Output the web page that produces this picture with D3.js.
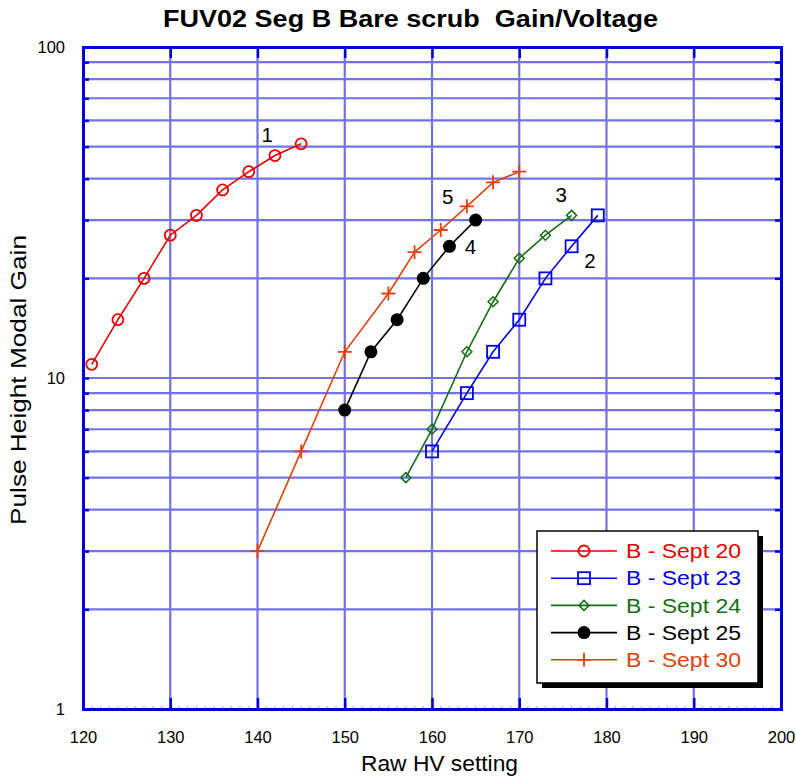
<!DOCTYPE html>
<html>
<head>
<meta charset="utf-8">
<script src="https://cdn.jsdelivr.net/npm/d3@7"></script>
<style>
  body { margin: 0; background: #fff; }
  svg text { font-family: Arial, "Liberation Sans", sans-serif; }
</style>
</head>
<body>
<div id="chart"></div>
<script>
// data
const sept20HV = [121, 124, 127, 130, 133, 136, 139, 142, 145];
const sept20Gain = [11, 15, 20, 27, 31, 37, 42, 47, 51];
const sept23HV = [160, 164, 167, 170, 173, 176, 179];
const sept23Gain = [6, 9, 12, 15, 20, 25, 31];
const sept24HV = [157, 160, 164, 167, 170, 173, 176];
const sept24Gain = [5, 7, 12, 17, 23, 27, 31];
const sept25HV = [150, 153, 156, 159, 162, 165];
const sept25Gain = [8, 12, 15, 20, 25, 30];
const sept30HV = [140, 145, 150, 155, 158, 161, 164, 167, 170];
const sept30Gain = [3, 6, 12, 18, 24, 28, 33, 39, 42];

const seriesNames = ["B - Sept 20", "B - Sept 23", "B - Sept 24", "B - Sept 25", "B - Sept 30"];
const seriesColors = ["#e60000", "#0000e6", "#146e14", "#000000", "#e0400c"];
const seriesShapes = ["circle", "square", "diamond", "dot", "plus"];
const curveLabels = ["1", "2", "3", "4", "5"];
// label anchor (HV, gain) at the text baseline
const curveLabelAt = [[141.1, 51.6], [178.1, 21.5], [174.8, 34.0], [164.4, 23.7], [161.8, 33.6]];

const xTicks = [120, 130, 140, 150, 160, 170, 180, 190, 200];
const yTicks = [1, 10, 100];

const W = 796, H = 778;
const mLeft = 83, mRight = 781, mTop = 47, mBottom = 709;

const series = [
  [sept20HV, sept20Gain], [sept23HV, sept23Gain], [sept24HV, sept24Gain],
  [sept25HV, sept25Gain], [sept30HV, sept30Gain]
].map(([hv, g], i) => ({
  name: seriesNames[i], color: seriesColors[i], shape: seriesShapes[i],
  points: hv.map((v, j) => ({ x: v, y: g[j] }))
}));

const x = d3.scaleLinear().domain([120, 200]).range([mLeft, mRight]);
const y = d3.scaleLog().domain([1, 100]).range([mBottom, mTop]);

const svg = d3.select("#chart").append("svg")
  .attr("width", W).attr("height", H);

// minor grid values 1..9 per decade
const gridY = [];
for (const dec of [1, 10]) for (let k = 2; k <= 9; k++) gridY.push(k * dec);
gridY.push(10);

const gridColor = "#7272e2", axisColor = "#0000d8";

svg.append("g").selectAll("line").data(gridY).join("line")
  .attr("x1", mLeft).attr("x2", mRight)
  .attr("y1", d => y(d)).attr("y2", d => y(d))
  .attr("stroke", gridColor).attr("stroke-width", 2.2);

svg.append("g").selectAll("line").data(xTicks.slice(1, -1)).join("line")
  .attr("x1", d => x(d)).attr("x2", d => x(d))
  .attr("y1", mTop).attr("y2", mBottom)
  .attr("stroke", gridColor).attr("stroke-width", 2.2);

// axes with inward ticks
const axisB = svg.append("g").attr("transform", `translate(0,${mBottom})`)
  .call(d3.axisBottom(x).tickValues(xTicks).tickSize(-11).tickPadding(22).tickFormat(d3.format("d")));
const axisT = svg.append("g").attr("transform", `translate(0,${mTop})`)
  .call(d3.axisTop(x).tickValues(xTicks).tickSize(-11).tickFormat(""));
const axisL = svg.append("g").attr("transform", `translate(${mLeft},0)`)
  .call(d3.axisLeft(y).tickValues(yTicks).tickSize(0).tickPadding(18).tickFormat(d3.format("d")));
const axisL2 = svg.append("g").attr("transform", `translate(${mLeft},0)`)
  .call(d3.axisLeft(y).tickValues(gridY).tickSize(-6).tickFormat(""));
const axisR = svg.append("g").attr("transform", `translate(${mRight},0)`)
  .call(d3.axisRight(y).tickValues(gridY.concat([100])).tickSize(-6).tickFormat(""));

for (const a of [axisB, axisT, axisL, axisL2, axisR]) {
  a.select(".domain").attr("stroke", axisColor).attr("stroke-width", 3);
  a.selectAll(".tick line").attr("stroke", axisColor).attr("stroke-width", 2.5);
  a.selectAll(".tick text").attr("fill", "#000").attr("font-size", 16.5)
    .attr("font-family", "Arial, 'Liberation Sans', sans-serif");
}
axisB.selectAll(".tick text").attr("dy", "0.71em");

// faint minor ticks along the bottom
svg.append("g").selectAll("line").data(d3.range(120, 201)).join("line")
  .attr("x1", d => x(d)).attr("x2", d => x(d))
  .attr("y1", mBottom).attr("y2", mBottom - 3)
  .attr("stroke", axisColor).attr("stroke-width", 1).attr("opacity", 0.4);

// titles (the original font is a bit wider than Arial, so stretch to the measured widths)
svg.append("text").attr("x", 410.5).attr("y", 27).attr("text-anchor", "middle")
  .attr("font-size", 23.5).attr("font-weight", "bold")
  .attr("style", "white-space:pre")
  .attr("textLength", 495).attr("lengthAdjust", "spacingAndGlyphs")
  .text("FUV02 Seg B Bare scrub  Gain/Voltage");
svg.append("text").attr("x", 439.5).attr("y", 771).attr("text-anchor", "middle")
  .attr("font-size", 22)
  .attr("textLength", 157).attr("lengthAdjust", "spacingAndGlyphs")
  .text("Raw HV setting");
svg.append("text").attr("transform", "translate(26,380) rotate(-90)")
  .attr("text-anchor", "middle").attr("font-size", 22)
  .attr("textLength", 290).attr("lengthAdjust", "spacingAndGlyphs")
  .text("Pulse Height Modal Gain");

const line = d3.line().x(d => x(d.x)).y(d => y(d.y));

function drawMarker(g, shape, color) {
  if (shape === "circle") {
    g.append("circle").attr("r", 5.5).attr("fill", "none").attr("stroke", color).attr("stroke-width", 1.8);
  } else if (shape === "square") {
    g.append("rect").attr("x", -6).attr("y", -6).attr("width", 12).attr("height", 12)
      .attr("fill", "none").attr("stroke", color).attr("stroke-width", 1.8);
  } else if (shape === "diamond") {
    g.append("path").attr("d", "M0,-5L5,0L0,5L-5,0Z")
      .attr("fill", "none").attr("stroke", color).attr("stroke-width", 1.5);
  } else if (shape === "dot") {
    g.append("circle").attr("r", 6.5).attr("fill", color);
  } else {
    g.append("path").attr("d", "M-7,0H7M0,-7V7")
      .attr("stroke", color).attr("stroke-width", 1.8);
  }
}

for (const s of series) {
  const g = svg.append("g");
  g.append("path").datum(s.points).attr("d", line)
    .attr("fill", "none").attr("stroke", s.color).attr("stroke-width", 1.6);
  g.selectAll("g").data(s.points).join("g")
    .attr("transform", d => `translate(${x(d.x)},${y(d.y)})`)
    .each(function () { drawMarker(d3.select(this), s.shape, s.color); });
}

svg.append("g").selectAll("text").data(curveLabels).join("text")
  .attr("x", (d, i) => x(curveLabelAt[i][0])).attr("y", (d, i) => y(curveLabelAt[i][1]))
  .attr("text-anchor", "middle").attr("font-size", 20.5).text(d => d);

// legend
const lg = svg.append("g").attr("transform", "translate(537,531)");
lg.append("rect").attr("x", 5).attr("y", 5).attr("width", 221).attr("height", 152).attr("fill", "#000");
lg.append("rect").attr("width", 221).attr("height", 152).attr("fill", "#fff")
  .attr("stroke", "#000").attr("stroke-width", 1.5);
const rows = lg.selectAll("g").data(series).join("g")
  .attr("transform", (d, i) => `translate(0,${20 + i * 27.2})`);
rows.append("line").attr("x1", 14).attr("x2", 80)
  .attr("stroke", d => d.color).attr("stroke-width", 1.6);
rows.append("g").attr("transform", "translate(47,0)")
  .each(function (d) { drawMarker(d3.select(this), d.shape, d.color); });
rows.append("text").attr("x", 89).attr("dy", "0.36em").attr("font-size", 20)
  .attr("textLength", 115).attr("lengthAdjust", "spacingAndGlyphs")
  .attr("fill", d => d.color).text(d => d.name);
</script>
</body>
</html>
